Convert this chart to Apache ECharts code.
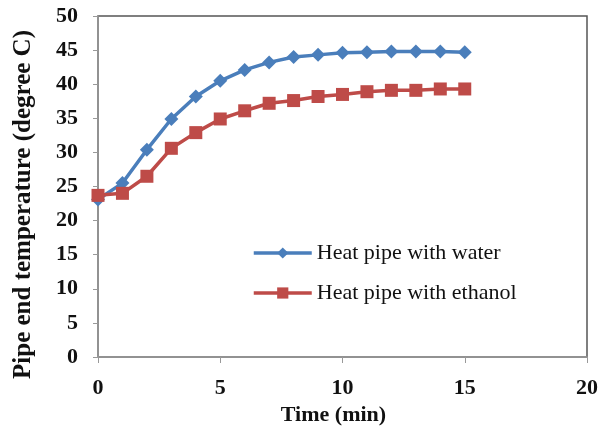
<!DOCTYPE html>
<html>
<head>
<meta charset="utf-8">
<script src="https://cdn.jsdelivr.net/npm/echarts@6/dist/echarts.min.js"></script>
<style>
  html, body { margin: 0; padding: 0; background: #fff; }
  .main { width: 601px; height: 434px; }
</style>
</head>
<body>
<div class="main"></div>
<script>
// time in minutes
let times = [0, 1, 2, 3, 4, 5, 6, 7, 8, 9, 10, 11, 12, 13, 14, 15];
let waterTemp = [23.1, 25.5, 30.4, 34.9, 38.2, 40.5, 42.1, 43.2, 44.0, 44.3, 44.6, 44.7, 44.8, 44.8, 44.8, 44.7];
let ethanolTemp = [23.7, 24.0, 26.5, 30.6, 32.9, 34.9, 36.1, 37.2, 37.6, 38.2, 38.5, 38.9, 39.1, 39.1, 39.3, 39.3];
let seriesNames = ['Heat pipe with water', 'Heat pipe with ethanol'];

let pairs = function(xs, ys) {
    return xs.map(function(x, i) { return [x, ys[i]]; });
};

let myChart = echarts.init(document.querySelector('.main'));
let font = '"Liberation Serif", "Times New Roman", serif';

let options = {
    animation: false,
    grid: {
        left: 98, right: 14, top: 16, bottom: 77,
        show: true,
        borderColor: '#555',
        borderWidth: 1.5
    },
    legend: {
        orient: 'vertical',
        left: 247,
        top: 237,
        itemWidth: 58,
        itemHeight: 14,
        itemGap: 18,
        lineStyle: { width: 3.5 },
        textStyle: { fontFamily: font, fontSize: 22, color: '#111' },
        data: seriesNames
    },
    xAxis: {
        type: 'value',
        min: 0, max: 20, interval: 5,
        name: 'Time (min)',
        nameLocation: 'middle',
        nameGap: 43,
        nameTextStyle: {
            fontFamily: font, fontSize: 22, fontWeight: 'bold', color: '#111',
            padding: [0, 18, 0, 0]
        },
        axisLine: { lineStyle: { color: '#999', width: 1.5 } },
        axisTick: { show: true, length: 6, lineStyle: { color: '#999' } },
        axisLabel: { fontFamily: font, fontSize: 22, fontWeight: 'bold', color: '#111', margin: 20 },
        splitLine: { show: false }
    },
    yAxis: {
        type: 'value',
        min: 0, max: 50, interval: 5,
        name: 'Pipe end temperature (degree C)',
        nameLocation: 'middle',
        nameGap: 62,
        nameTextStyle: {
            fontFamily: font, fontSize: 25, fontWeight: 'bold', color: '#111',
            padding: [0, 36, 0, 0]
        },
        axisLine: { show: true, lineStyle: { color: '#999', width: 1.5 } },
        axisTick: { show: true, length: 5, lineStyle: { color: '#999' } },
        axisLabel: { fontFamily: font, fontSize: 22, fontWeight: 'bold', color: '#111', margin: 20 },
        splitLine: { show: false }
    },
    series: [
        {
            name: seriesNames[0],
            type: 'line',
            data: pairs(times, waterTemp),
            symbol: 'diamond',
            symbolSize: 14,
            color: '#4a7ebb',
            lineStyle: { width: 3.5 }
        },
        {
            name: seriesNames[1],
            type: 'line',
            data: pairs(times, ethanolTemp),
            symbol: 'rect',
            symbolSize: 13,
            color: '#be4b48',
            lineStyle: { width: 3.5 }
        }
    ]
};

myChart.setOption(options);
</script>
</body>
</html>
